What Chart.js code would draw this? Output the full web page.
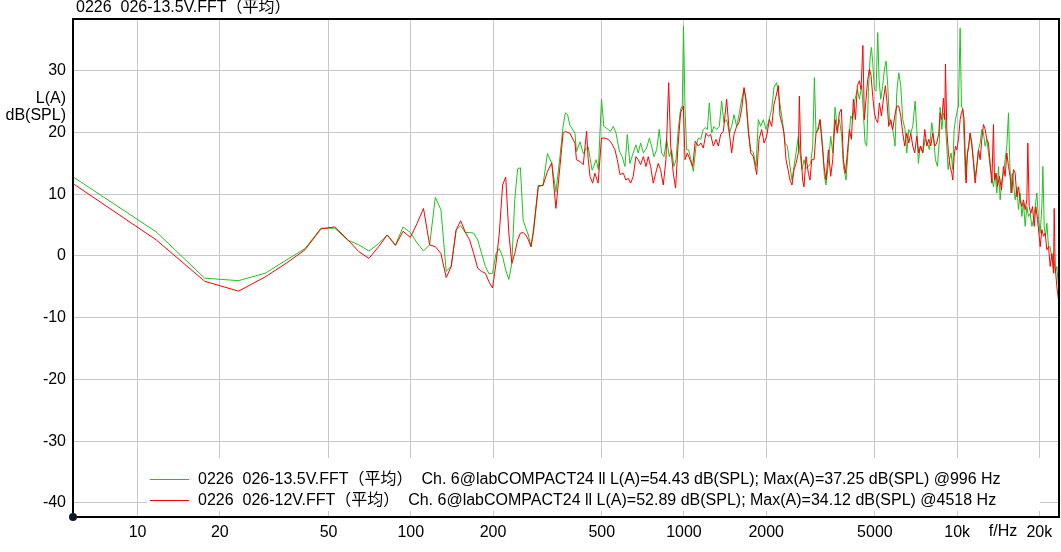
<!DOCTYPE html>
<html>
<head>
<meta charset="utf-8">
<title>FFT</title>
<script src="https://cdn.jsdelivr.net/npm/chart.js@4.4.1/dist/chart.umd.min.js"></script>
<style>
    html, body { margin: 0; padding: 0; background: #fff; }
    #wrap { width: 1061px; height: 552px; position: relative; }
</style>
</head>
<body>
<div id="wrap"><canvas id="chart" width="1061" height="552"></canvas></div>
<script>
// низкие частоты: общие бины FFT для обеих кривых
const lowHz = [5.86, 11.7, 17.6, 23.4, 29.3, 35.2, 41.0, 46.9, 52.7, 58.6, 64.5, 70.3, 76.2, 82.0, 87.9, 93.7, 99.6,
    105.5, 111.3, 117.2, 123.0, 128.9, 134.8, 140.6, 146.5, 152.3, 158.2, 164.1, 169.9, 175.8, 181.6, 187.5, 193.4,
    199.2, 205.1, 210.9, 216.8, 222.6, 228.5, 234.4, 240.2, 246.1, 251.9, 257.8, 263.7, 269.5, 275.4, 281.2, 293.0,
    304.7, 316.4, 328.1, 339.8, 351.6];
const lowGreen = [12.7, 3.9, -3.6, -4.0, -2.8, -0.6, 1.2, 4.5, 4.5, 2.6, 1.8, 0.8, 2.0, 3.4, 1.8, 4.7, 3.8,
    2.1, 0.8, 1.8, 9.5, 7.5, -2.5, -1.7, 4.2, 4.9, 3.8, 3.8, 3.7, 2.6, 0.4, -1.7, -2.9,
    -2.8, 0.4, 1.2, -0.1, -2.3, -3.8, -1.2, 9.1, 14.1, 14.3, 5.8, 4.5, 3.4, 1.5, 3.7, 11.2,
    11.5, 16.6, 15.0, 10.4, 16.1];
const lowRed = [11.6, 2.6, -4.1, -5.7, -3.4, -1.1, 1.0, 4.4, 4.7, 2.7, 0.7, -0.4, 1.5, 3.4, 1.7, 4.0, 3.0,
    5.3, 7.7, 1.8, 1.5, 0.4, -3.5, -1.7, 4.2, 5.7, 3.9, 2.6, 0.4, -2.0, -2.5, -2.8, -4.2,
    -5.2, -1.2, 3.7, 11.5, 12.8, 3.7, -1.2, 0.4, 2.6, 3.7, 3.8, 3.4, 2.6, 1.5, 4.2, 11.4,
    11.4, 13.7, 15.1, 7.7, 14.5];

// выше ~360 Гц — 13.5V
const hiGreenHz = [361, 368, 375, 382, 399, 404, 416, 428, 440, 446, 453, 461, 467, 477, 486,
    499, 509, 528, 539, 551, 564, 580, 594, 608, 620, 634, 652, 667, 680, 694, 710, 730, 747, 761, 777, 794,
    812, 828, 845, 864, 884, 901, 919, 935, 953, 972, 986, 996, 1009, 1023, 1040, 1061, 1082, 1107, 1129,
    1151, 1177, 1197, 1218, 1238, 1263, 1288, 1317, 1347, 1374, 1401, 1433, 1466, 1495, 1525, 1559, 1595,
    1627, 1659, 1687, 1721, 1755, 1795, 1836, 1872, 1909, 1953, 1997, 2037, 2095, 2136, 2185,
    2247, 2298, 2344, 2390, 2445, 2486, 2529, 2572, 2623, 2660, 2705, 2751, 2798, 2854, 2910, 2960, 3002,
    3044, 3105, 3149, 3220, 3266, 3312, 3378, 3445, 3504, 3573, 3644, 3706, 3780, 3834, 3921, 3999, 4078,
    4147, 4230, 4314, 4387, 4475, 4538, 4602, 4667, 4733, 4800, 4854, 4909, 4979, 5049, 5121, 5179, 5252,
    5342, 5417, 5494, 5572, 5651, 5763, 5845, 5927, 6011, 6113, 6217, 6323, 6449, 6540, 6651, 6764, 6880,
    7016, 7116, 7216, 7318, 7485, 7634, 7786, 7918, 8075, 8189, 8329, 8470, 8614,
    8664, 8787, 8911, 9037, 9165, 9269, 9374, 9506, 9641, 9750, 9861, 9971, 10113, 10256, 10372, 10489,
    10608, 10728, 10849, 11003, 11158, 11316, 11477, 11639, 11805, 11971, 12141, 12312, 12487, 12664, 12843,
    13025, 13209, 13396, 13585, 13778, 13973, 14171, 14373, 14575, 14782, 14990, 15203, 15418, 15548, 15724,
    15903, 16082, 16310, 16541, 16774, 17013, 17254, 17498, 17745, 17996, 18251, 18509, 18773, 19038, 19308,
    19581, 19856, 20140, 20424, 20596, 20830, 21065, 21304, 21605, 21910, 22221, 22536, 22855, 23178, 23506,
    23705];
const hiGreenDb = [21.0, 23.2, 22.9, 21.2, 19.9, 16.9, 18.5, 16.6, 17.5, 17.7, 15.9, 13.9, 14.5, 15.6, 14.0,
    25.4, 21.0, 20.5, 20.2, 21.0, 19.9, 17.0, 16.1, 14.5, 19.7, 15.0, 16.7, 18.0, 16.7, 18.3, 16.7, 17.5, 19.1, 17.8, 16.1, 17.2,
    20.5, 16.7, 16.1, 18.9, 16.1, 17.2, 14.5, 15.6, 20.5, 23.8, 24.3, 37.25, 23.8, 17.2, 17.2, 15.6, 13.7, 17.8, 19.1,
    18.9, 20.5, 20.8, 20.5, 24.8, 19.9, 21.0, 20.5, 21.0, 25.1, 21.6, 22.1, 19.9, 21.0, 22.9, 21.0, 23.2,
    25.4, 27.0, 25.1, 19.9, 17.2, 16.7, 14.5, 22.1, 21.0, 22.1, 20.5, 21.6, 23.8, 27.3, 28.1,
    24.6, 21.6, 18.3, 17.8, 14.5, 12.3, 14.5, 16.7, 19.4, 16.7, 14.0, 15.6, 14.2, 14.5, 15.0, 17.8, 28.9,
    19.9, 21.0, 22.1, 17.8, 12.9, 11.5, 15.0, 19.4, 16.7, 24.1, 20.5, 22.1, 19.4, 14.5, 12.3, 17.8, 22.7,
    22.1, 25.4, 27.0, 25.4, 27.6, 23.2, 18.3, 17.8, 26.5, 31.9, 33.8, 31.4, 27.0, 26.7, 36.2, 28.6, 25.4,
    27.6, 30.3, 31.6, 27.6, 22.1, 21.0, 19.9, 17.8, 26.5, 29.7, 27.6, 22.1, 20.5, 16.7, 20.5, 19.9, 21.0,
    25.1, 20.5, 15.0, 17.8, 16.7, 18.9, 18.3, 17.2, 21.6, 19.4, 15.6, 14.5, 18.9,
    24.1, 20.5, 23.2, 22.1, 17.8, 14.0, 15.6, 16.7, 14.0, 20.5, 22.1, 23.2, 24.3, 36.9, 24.3, 23.8,
    18.9, 12.3, 15.6, 17.8, 19.9, 17.8, 15.6, 12.9, 14.5, 17.2, 18.3, 20.5, 19.9, 17.8, 18.9,
    16.7, 14.5, 12.9, 11.2, 13.4, 10.2, 14.5, 9.1, 12.3, 13.4, 15.6, 17.8, 23.2, 16.7, 10.2,
    13.4, 11.8, 9.1, 11.2, 7.5, 10.2, 6.4, 8.5, 4.8, 8.0, 6.4, 6.9, 4.8, 5.9, 8.0,
    10.2, 5.9, 3.7, 8.0, 14.5, 4.8, 3.2, 5.3, 1.5, 1.5, -0.6, 0.4, -2.8, -1.7, -5.0,
    -6.0];

// выше ~360 Гц — 12V
const hiRedHz = [361, 368, 375, 382, 399, 404, 416, 428, 440, 446, 453, 463, 472, 485,
    499, 514, 528, 543, 559, 570, 583, 600, 613, 625, 638, 652, 667, 680, 694, 710, 726, 740, 755, 772, 788,
    805, 821, 840, 859, 879, 894, 914, 932, 951, 972, 995, 1009, 1029, 1052, 1076, 1100, 1129, 1154, 1177,
    1204, 1228, 1252, 1281, 1310, 1336, 1363, 1394, 1433, 1466, 1495, 1525, 1559, 1590, 1627, 1659, 1687,
    1721, 1755, 1795, 1846, 1883, 1925, 1964, 2008, 2054, 2095, 2136, 2173, 2216,
    2247, 2298, 2324, 2364, 2404, 2445, 2486, 2529, 2572, 2623, 2645, 2675, 2720, 2751, 2798, 2854, 2894,
    2935, 2993, 3044, 3105, 3149, 3202, 3257, 3312, 3378, 3445, 3504, 3573, 3644, 3706, 3769, 3834, 3899,
    3965, 4032, 4101, 4171, 4242, 4314, 4387, 4449, 4518, 4576, 4641, 4707, 4773, 4841, 4909, 4979, 5049,
    5121, 5194, 5282, 5372, 5463, 5541, 5619, 5714, 5812, 5911, 6011, 6113, 6217, 6323, 6431, 6540, 6651,
    6764, 6880, 6996, 7116, 7236, 7360, 7485, 7612, 7742, 7873, 8007, 8144, 8282, 8423, 8566,
    8664, 8787, 8911, 9012, 9063, 9165, 9295, 9426, 9560, 9641, 9750, 9861, 9971, 10113, 10256, 10372,
    10489, 10608, 10698, 10788, 10910, 11034, 11158, 11316, 11477, 11639, 11805, 11971, 12141, 12312, 12487,
    12664, 12843, 13025, 13209, 13396, 13585, 13700, 13894, 14051, 14290, 14534, 14782, 14990, 15203, 15418,
    15636, 15858, 16082, 16310, 16541, 16774, 17013, 17254, 17498, 17745, 17996, 18149, 18354, 18614, 18878,
    19144, 19414, 19692, 19970, 20140, 20424, 20714, 21006, 21304, 21605, 21910, 22221, 22536, 22660, 22855,
    23178, 23506, 23705];
const hiRedDb = [19.9, 20.2, 20.0, 19.9, 18.3, 15.6, 15.3, 14.8, 20.2, 15.8, 12.9, 11.8, 13.4, 11.8,
    19.1, 19.1, 18.9, 18.3, 17.2, 15.6, 13.2, 13.4, 12.3, 12.6, 11.8, 12.9, 16.1, 15.6, 14.8, 16.1, 14.5, 16.1, 14.5, 11.8, 13.4,
    15.0, 14.0, 11.5, 15.6, 28.1, 17.8, 13.4, 11.0, 17.8, 23.2, 24.3, 15.6, 16.7, 15.6, 14.5, 18.6, 17.8, 18.3, 17.5,
    19.9, 19.4, 19.7, 17.8, 18.9, 17.8, 19.7, 20.2, 25.4, 19.9, 16.7, 19.7, 21.0, 21.6, 23.8, 27.3, 25.4,
    20.5, 16.7, 16.1, 13.2, 18.9, 20.5, 18.3, 19.4, 22.1, 21.0, 24.6, 25.9, 27.6,
    22.7, 21.0, 19.9, 15.6, 14.0, 12.3, 11.5, 14.0, 15.0, 16.7, 25.9, 17.2, 12.3, 11.2, 16.1, 13.4, 12.3,
    15.6, 15.6, 19.9, 20.5, 22.1, 18.3, 14.5, 12.3, 17.2, 12.9, 15.6, 22.1, 19.9, 23.2, 23.8, 15.6, 13.4,
    16.7, 20.5, 18.9, 25.4, 22.1, 27.6, 28.4, 27.0, 34.12, 22.1, 25.4, 28.6, 30.3, 29.2, 25.9, 23.2, 22.1,
    21.6, 24.8, 22.7, 25.4, 27.6, 24.8, 21.0, 22.1, 20.5, 22.7, 24.3, 24.3, 22.7, 19.9, 17.8, 19.9, 18.3,
    19.9, 17.8, 16.7, 19.4, 16.7, 17.8, 16.7, 20.5, 17.8, 18.9, 17.8, 19.9, 17.8, 18.3, 19.9,
    23.2, 22.1, 25.6, 22.1, 31.1, 20.5, 16.7, 14.5, 13.4, 12.3, 16.1, 17.8, 17.2, 18.9, 22.1, 23.2,
    23.8, 22.1, 16.7, 11.8, 16.7, 17.8, 19.9, 18.3, 15.0, 11.8, 14.5, 17.2, 15.6, 18.9, 21.3,
    20.5, 18.9, 18.3, 15.0, 11.8, 21.3, 12.3, 13.4, 11.2, 12.9, 10.7, 14.5, 12.9, 16.7, 14.5,
    12.9, 10.2, 14.0, 13.4, 9.6, 11.2, 9.1, 8.0, 9.1, 7.5, 9.1, 18.3, 8.0, 6.9, 8.0,
    4.8, 8.0, 5.9, 3.2, 1.5, 4.3, 3.2, 3.7, 1.0, 1.5, -1.7, 0.4, -2.8, 7.7, -1.7,
    -5.0, -7.2, -6.0];

const xTickValues = [10, 20, 50, 100, 200, 500, 1000, 2000, 5000, 10000, 20000];
const xTickLabels = ['10', '20', '50', '100', '200', '500', '1000', '2000', '5000', '10k', '20k'];
const yTickValues = [-40, -30, -20, -10, 0, 10, 20, 30];

const titleText = '0226  026-13.5V.FFT（平均）';
const yUnitText = ['L(A)', 'dB(SPL)'];
const xUnitText = 'f/Hz';
const seriesLabels = [
    '0226  026-13.5V.FFT（平均）  Ch. 6@labCOMPACT24 ll L(A)=54.43 dB(SPL); Max(A)=37.25 dB(SPL) @996 Hz',
    '0226  026-12V.FFT（平均）  Ch. 6@labCOMPACT24 ll L(A)=52.89 dB(SPL); Max(A)=34.12 dB(SPL) @4518 Hz'
];

const GREEN = '#1ec31e';
const RED = '#ff0000';
const FONT = "'Liberation Sans', Arial, 'Noto Sans CJK SC', sans-serif";

function toPoints(hz, db) {
    return hz.map((f, i) => ({x: f, y: db[i]}));
}

const greenData = toPoints(lowHz, lowGreen).concat(toPoints(hiGreenHz, hiGreenDb));
const redData = toPoints(lowHz, lowRed).concat(toPoints(hiRedHz, hiRedDb));

// рамка, легенда, подписи осей
const decorPlugin = {
    id: 'decor',
    afterDraw(chart) {
        const ctx = chart.ctx;
        const area = chart.chartArea;
        ctx.save();

        // легенда внутри графика
        ctx.fillStyle = '#ffffff';
        ctx.fillRect(area.left + 74, 458, 893, 53);
        const rows = [479.5, 500.5];
        chart.data.datasets.forEach((ds, i) => {
            ctx.strokeStyle = ds.borderColor;
            ctx.lineWidth = 1;
            ctx.beginPath();
            ctx.moveTo(area.left + 77, rows[i]);
            ctx.lineTo(area.left + 116, rows[i]);
            ctx.stroke();
            ctx.fillStyle = '#000';
            ctx.font = '16px ' + FONT;
            ctx.textBaseline = 'middle';
            ctx.textAlign = 'left';
            ctx.fillText(ds.label, area.left + 125, rows[i]);
        });

        // рамка
        ctx.strokeStyle = '#000';
        ctx.lineWidth = 2;
        ctx.strokeRect(area.left, area.top, area.right - area.left, area.bottom - area.top);

        // точка в начале координат
        ctx.fillStyle = '#0e1a2c';
        ctx.beginPath();
        ctx.arc(area.left, area.bottom, 4, 0, Math.PI * 2);
        ctx.fill();

        ctx.fillStyle = '#000';
        ctx.font = '16px ' + FONT;
        ctx.textBaseline = 'middle';
        ctx.textAlign = 'left';
        ctx.fillText(titleText, area.left + 3, 8);

        ctx.textAlign = 'right';
        ctx.fillText(yUnitText[0], area.left - 7, 99);
        ctx.fillText(yUnitText[1], area.left - 7, 116);

        ctx.textAlign = 'center';
        ctx.fillText(xUnitText, 1003, 532);
        ctx.restore();
    }
};

const ctx = document.getElementById('chart').getContext('2d');
Chart.defaults.font.family = FONT;
Chart.defaults.font.size = 16;
Chart.defaults.color = '#000';

const chart = new Chart(ctx, {
    type: 'line',
    data: {
        datasets: [{
            label: seriesLabels[0],
            data: greenData,
            borderColor: GREEN,
            borderWidth: 1,
            pointRadius: 0,
            tension: 0,
            fill: false,
            order: 2
        }, {
            label: seriesLabels[1],
            data: redData,
            borderColor: RED,
            borderWidth: 1,
            pointRadius: 0,
            tension: 0,
            fill: false,
            order: 1
        }]
    },
    options: {
        responsive: false,
        animation: false,
        layout: {padding: {top: 19, right: 2, left: 0, bottom: 0}},
        plugins: {
            legend: {display: false},
            title: {display: false},
            tooltip: {enabled: false}
        },
        scales: {
            x: {
                type: 'logarithmic',
                min: 5.8,
                max: 23600,
                afterBuildTicks: (scale) => {
                    scale.ticks = xTickValues.map(v => ({value: v}));
                },
                afterFit: (scale) => { scale.height = 35; },
                ticks: {
                    autoSkip: false,
                    maxRotation: 0,
                    padding: 6,
                    callback: (value) => xTickLabels[xTickValues.indexOf(value)]
                },
                grid: {color: '#c8c8c8', lineWidth: 1, drawTicks: false},
                border: {display: false}
            },
            y: {
                type: 'linear',
                min: -42.3,
                max: 38.4,
                afterBuildTicks: (scale) => {
                    scale.ticks = yTickValues.map(v => ({value: v}));
                },
                afterFit: (scale) => { scale.width = 73; },
                ticks: {
                    padding: 7,
                    callback: (value) => String(value)
                },
                grid: {color: '#c8c8c8', lineWidth: 1, drawTicks: false},
                border: {display: false}
            }
        }
    },
    plugins: [decorPlugin]
});
</script>
</body>
</html>
